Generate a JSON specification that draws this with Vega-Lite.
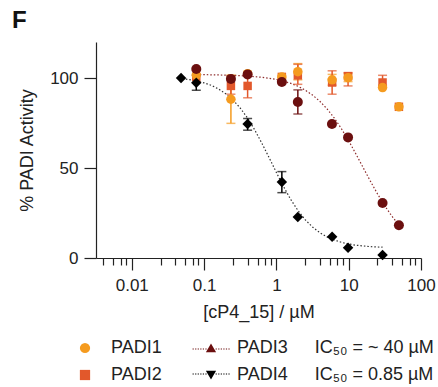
{
  "$schema": "https://vega.github.io/schema/vega-lite/v6.json",
  "width": 325,
  "height": 216,
  "autosize": "none",
  "padding": {"left": 96, "top": 42, "right": 17, "bottom": 129},
  "background": "white",
  "config": {"view": {"stroke": null}, "font": "Liberation Sans", "legend": {"symbolOpacity": 1}},
  "title": {"text": "F", "anchor": "start", "frame": "group", "fontSize": 24, "fontWeight": "bold", "font": "Liberation Sans", "color": "#111", "dx": -84, "offset": 9},
  "datasets": {
    "pts": [
      {"s": "PADI1", "c": 0.078, "y": 101.6},
      {"s": "PADI1", "c": 0.235, "y": 88.2, "lo": 74.8, "hi": 101.6},
      {"s": "PADI1", "c": 0.40, "y": 102.4},
      {"s": "PADI1", "c": 1.19, "y": 100.6},
      {"s": "PADI1", "c": 1.98, "y": 103.5, "lo": 99, "hi": 108},
      {"s": "PADI1", "c": 5.9, "y": 99, "lo": 96, "hi": 102},
      {"s": "PADI1", "c": 9.8, "y": 100.2, "lo": 98, "hi": 102.5},
      {"s": "PADI1", "c": 29.4, "y": 94.7},
      {"s": "PADI1", "c": 49.5, "y": 84},
      {"s": "PADI2", "c": 0.078, "y": 100.5},
      {"s": "PADI2", "c": 0.235, "y": 95.6, "lo": 91, "hi": 101},
      {"s": "PADI2", "c": 0.40, "y": 95.6, "lo": 89, "hi": 102},
      {"s": "PADI2", "c": 1.19, "y": 100.6},
      {"s": "PADI2", "c": 1.98, "y": 101.5, "lo": 96.5, "hi": 107.6},
      {"s": "PADI2", "c": 5.9, "y": 97.5, "lo": 91, "hi": 104},
      {"s": "PADI2", "c": 9.8, "y": 101, "lo": 95.6, "hi": 103},
      {"s": "PADI2", "c": 29.4, "y": 97.5, "lo": 96, "hi": 101.5},
      {"s": "PADI2", "c": 49.5, "y": 84},
      {"s": "PADI3", "c": 0.078, "y": 105},
      {"s": "PADI3", "c": 0.235, "y": 99.5},
      {"s": "PADI3", "c": 0.40, "y": 102},
      {"s": "PADI3", "c": 1.19, "y": 97.8},
      {"s": "PADI3", "c": 1.98, "y": 86.7, "lo": 80, "hi": 93.4},
      {"s": "PADI3", "c": 5.87, "y": 74.4},
      {"s": "PADI3", "c": 9.8, "y": 67},
      {"s": "PADI3", "c": 29.4, "y": 30.6},
      {"s": "PADI3", "c": 49.5, "y": 18.2},
      {"s": "PADI4", "c": 0.048, "y": 100},
      {"s": "PADI4", "c": 0.078, "y": 97.4, "lo": 93.2, "hi": 101.5},
      {"s": "PADI4", "c": 0.40, "y": 74.4, "lo": 71, "hi": 77.5},
      {"s": "PADI4", "c": 1.19, "y": 42.2, "lo": 36.3, "hi": 48},
      {"s": "PADI4", "c": 1.98, "y": 22.8},
      {"s": "PADI4", "c": 5.9, "y": 11.8},
      {"s": "PADI4", "c": 9.8, "y": 5.7},
      {"s": "PADI4", "c": 29.4, "y": 1.7}
    ],
    "curves": [
      {"s": "PADI4", "c": 0.0501, "y": 99.65},
      {"s": "PADI4", "c": 0.0631, "y": 99.1},
      {"s": "PADI4", "c": 0.0794, "y": 98.3},
      {"s": "PADI4", "c": 0.1, "y": 97.3},
      {"s": "PADI4", "c": 0.1259, "y": 95.9},
      {"s": "PADI4", "c": 0.1585, "y": 93.9},
      {"s": "PADI4", "c": 0.1995, "y": 91.2},
      {"s": "PADI4", "c": 0.2512, "y": 87.8},
      {"s": "PADI4", "c": 0.3162, "y": 83.3},
      {"s": "PADI4", "c": 0.3981, "y": 77.8},
      {"s": "PADI4", "c": 0.5012, "y": 71.2},
      {"s": "PADI4", "c": 0.631, "y": 63.7},
      {"s": "PADI4", "c": 0.7943, "y": 55.7},
      {"s": "PADI4", "c": 1.0, "y": 47.5},
      {"s": "PADI4", "c": 1.259, "y": 39.6},
      {"s": "PADI4", "c": 1.585, "y": 32.4},
      {"s": "PADI4", "c": 1.995, "y": 26.3},
      {"s": "PADI4", "c": 2.512, "y": 21.2},
      {"s": "PADI4", "c": 3.162, "y": 17.2},
      {"s": "PADI4", "c": 3.981, "y": 14.1},
      {"s": "PADI4", "c": 5.012, "y": 11.7},
      {"s": "PADI4", "c": 6.31, "y": 10.0},
      {"s": "PADI4", "c": 7.943, "y": 8.7},
      {"s": "PADI4", "c": 10.0, "y": 7.8},
      {"s": "PADI4", "c": 12.59, "y": 7.1},
      {"s": "PADI4", "c": 15.85, "y": 6.7},
      {"s": "PADI4", "c": 19.95, "y": 6.3},
      {"s": "PADI4", "c": 29.4, "y": 6.0},
      {"s": "PADI3", "c": 0.078, "y": 101.9},
      {"s": "PADI3", "c": 0.1, "y": 101.86},
      {"s": "PADI3", "c": 0.1585, "y": 101.7},
      {"s": "PADI3", "c": 0.2512, "y": 101.5},
      {"s": "PADI3", "c": 0.3981, "y": 101.1},
      {"s": "PADI3", "c": 0.631, "y": 100.4},
      {"s": "PADI3", "c": 1.0, "y": 99.2},
      {"s": "PADI3", "c": 1.259, "y": 98.2},
      {"s": "PADI3", "c": 1.585, "y": 97.0},
      {"s": "PADI3", "c": 1.995, "y": 95.4},
      {"s": "PADI3", "c": 2.512, "y": 93.2},
      {"s": "PADI3", "c": 3.162, "y": 90.5},
      {"s": "PADI3", "c": 3.981, "y": 87.1},
      {"s": "PADI3", "c": 5.012, "y": 82.9},
      {"s": "PADI3", "c": 6.31, "y": 77.8},
      {"s": "PADI3", "c": 7.943, "y": 71.8},
      {"s": "PADI3", "c": 10.0, "y": 65.1},
      {"s": "PADI3", "c": 12.59, "y": 57.8},
      {"s": "PADI3", "c": 15.85, "y": 50.2},
      {"s": "PADI3", "c": 19.95, "y": 42.7},
      {"s": "PADI3", "c": 25.12, "y": 35.5},
      {"s": "PADI3", "c": 31.62, "y": 28.9},
      {"s": "PADI3", "c": 39.81, "y": 23.1},
      {"s": "PADI3", "c": 49.5, "y": 18.4}
    ]
  },
  "encoding": {
    "x": {
      "field": "c", "type": "quantitative",
      "scale": {"type": "log", "domain": [0.0032, 100], "nice": false},
      "axis": {
        "title": "[cP4_15] / µM",
        "titleFontSize": 18, "titleFontWeight": "normal", "titleColor": "#222", "titlePadding": 10,
        "values": [0.004, 0.0055, 0.007, 0.0083, 0.01, 0.025, 0.04, 0.055, 0.07, 0.083, 0.1, 0.25, 0.4, 0.55, 0.7, 0.83, 1, 2.5, 4, 5.5, 7, 8.3, 10, 25, 40, 55, 70, 83, 100],
        "format": "~g",
        "labelExpr": "(datum.value == 0.01 || datum.value == 0.1 || datum.value == 1 || datum.value == 10 || datum.value == 100) ? datum.label : ''",
        "tickSize": {"condition": {"test": "datum.value == 0.01 || datum.value == 0.1 || datum.value == 1 || datum.value == 10 || datum.value == 100", "value": 12}, "value": 7},
        "labelFontSize": 17, "labelColor": "#222", "labelPadding": 7, "labelOverlap": false, "labelFlush": false,
        "grid": false, "domainColor": "#222", "tickColor": "#222", "domainWidth": 1.2, "tickWidth": 1.2
      }
    },
    "y": {
      "field": "y", "type": "quantitative",
      "scale": {"domain": [0, 120], "nice": false, "zero": false},
      "axis": {
        "title": "% PADI Activity",
        "titleFontSize": 18, "titleFontWeight": "normal", "titleColor": "#222", "titlePadding": 13,
        "values": [0, 50, 100], "tickSize": 12, "labelPadding": 6,
        "labelFontSize": 17, "labelColor": "#222",
        "grid": false, "domainColor": "#222", "tickColor": "#222", "domainWidth": 1.2, "tickWidth": 1.2
      }
    }
  },
  "layer": [
    {
      "data": {"name": "pts"},
      "transform": [{"filter": "datum.y < -1000"}],
      "mark": {"type": "point", "filled": true, "size": 100, "opacity": 1},
      "encoding": {
        "color": {
          "field": "s", "type": "nominal",
          "scale": {"domain": ["PADI1", "PADI3", "PADI2", "PADI4"], "range": ["#F59B1F", "#6B0F0F", "#E2582B", "#000000"]},
          "legend": {
            "orient": "none", "legendX": -20, "legendY": 297, "columns": 2, "direction": "horizontal",
            "title": null, "symbolSize": 105, "symbolStrokeWidth": 0, "symbolOpacity": 1,
            "labelFontSize": 18, "labelColor": "#222", "labelOffset": 17, "labelLimit": 400,
            "rowPadding": 9, "columnPadding": 30,
            "encode": {"symbols": {"update": {"opacity": {"value": 1}, "fillOpacity": {"value": 1}}}},
            "labelExpr": "datum.label == 'PADI3' ? 'PADI3\u2003\u2002IC₅₀ = ~ 40 µM' : datum.label == 'PADI4' ? 'PADI4\u2003\u2002IC₅₀ = 0.85 µM' : datum.label"
          }
        },
        "shape": {
          "field": "s", "type": "nominal",
          "scale": {"domain": ["PADI1", "PADI3", "PADI2", "PADI4"], "range": [
            "circle",
            "M-1,0.85L0,-0.9L1,0.85Z M-3.6,0.1h0.24v0.2h-0.24Z M-3.1,0.1h0.24v0.2h-0.24Z M-2.6,0.1h0.24v0.2h-0.24Z M-2.1,0.1h0.24v0.2h-0.24Z M-1.6,0.1h0.24v0.2h-0.24Z M-1.1,0.1h0.24v0.2h-0.24Z M0.9,0.1h0.24v0.2h-0.24Z M1.4,0.1h0.24v0.2h-0.24Z M1.9,0.1h0.24v0.2h-0.24Z M2.4,0.1h0.24v0.2h-0.24Z M2.9,0.1h0.24v0.2h-0.24Z M3.4,0.1h0.24v0.2h-0.24Z",
            "square",
            "M-1,-0.85L1,-0.85L0,0.9Z M-3.6,-0.3h0.24v0.2h-0.24Z M-3.1,-0.3h0.24v0.2h-0.24Z M-2.6,-0.3h0.24v0.2h-0.24Z M-2.1,-0.3h0.24v0.2h-0.24Z M-1.6,-0.3h0.24v0.2h-0.24Z M-1.1,-0.3h0.24v0.2h-0.24Z M0.9,-0.3h0.24v0.2h-0.24Z M1.4,-0.3h0.24v0.2h-0.24Z M1.9,-0.3h0.24v0.2h-0.24Z M2.4,-0.3h0.24v0.2h-0.24Z M2.9,-0.3h0.24v0.2h-0.24Z M3.4,-0.3h0.24v0.2h-0.24Z"
          ]},
          "legend": {
            "orient": "none", "legendX": -20, "legendY": 297, "columns": 2, "direction": "horizontal",
            "title": null, "symbolSize": 105, "symbolStrokeWidth": 0, "symbolOpacity": 1,
            "labelFontSize": 18, "labelColor": "#222", "labelOffset": 17, "labelLimit": 400,
            "rowPadding": 9, "columnPadding": 30,
            "encode": {"symbols": {"update": {"opacity": {"value": 1}, "fillOpacity": {"value": 1}}}},
            "labelExpr": "datum.label == 'PADI3' ? 'PADI3\u2003\u2002IC₅₀ = ~ 40 µM' : datum.label == 'PADI4' ? 'PADI4\u2003\u2002IC₅₀ = 0.85 µM' : datum.label"
          }
        }
      }
    },
    {
      "data": {"name": "curves"},
      "mark": {"type": "line", "strokeWidth": 1.2, "strokeDash": [1.5, 2]},
      "encoding": {
        "detail": {"field": "s"},
        "stroke": {"field": "s", "type": "nominal", "scale": {"domain": ["PADI3", "PADI4"], "range": ["#8e2c2c", "#333333"]}, "legend": null}
      }
    },
    {
      "data": {"name": "pts"},
      "transform": [{"filter": "isValid(datum.lo)"}],
      "mark": {"type": "errorbar", "ticks": {"size": 9, "thickness": 1.5}, "rule": {"strokeWidth": 1.5}},
      "encoding": {
        "y": {"field": "lo", "type": "quantitative"},
        "y2": {"field": "hi"},
        "color": {"field": "s", "type": "nominal"}
      }
    },
    {
      "data": {"name": "pts"},
      "transform": [{"filter": "datum.s == 'PADI2'"}],
      "mark": {"type": "point", "shape": "square", "filled": true, "size": 72, "opacity": 1},
      "encoding": {"color": {"field": "s", "type": "nominal"}}
    },
    {
      "data": {"name": "pts"},
      "transform": [{"filter": "datum.s == 'PADI1'"}],
      "mark": {"type": "point", "shape": "circle", "filled": true, "size": 90, "opacity": 1},
      "encoding": {"color": {"field": "s", "type": "nominal"}}
    },
    {
      "data": {"name": "pts"},
      "transform": [{"filter": "datum.s == 'PADI3'"}],
      "mark": {"type": "point", "shape": "circle", "filled": true, "size": 100, "opacity": 1},
      "encoding": {"color": {"field": "s", "type": "nominal"}}
    },
    {
      "data": {"name": "pts"},
      "transform": [{"filter": "datum.s == 'PADI4'"}],
      "mark": {"type": "point", "shape": "diamond", "filled": true, "size": 110, "opacity": 1},
      "encoding": {"color": {"field": "s", "type": "nominal"}}
    }
  ]
}
